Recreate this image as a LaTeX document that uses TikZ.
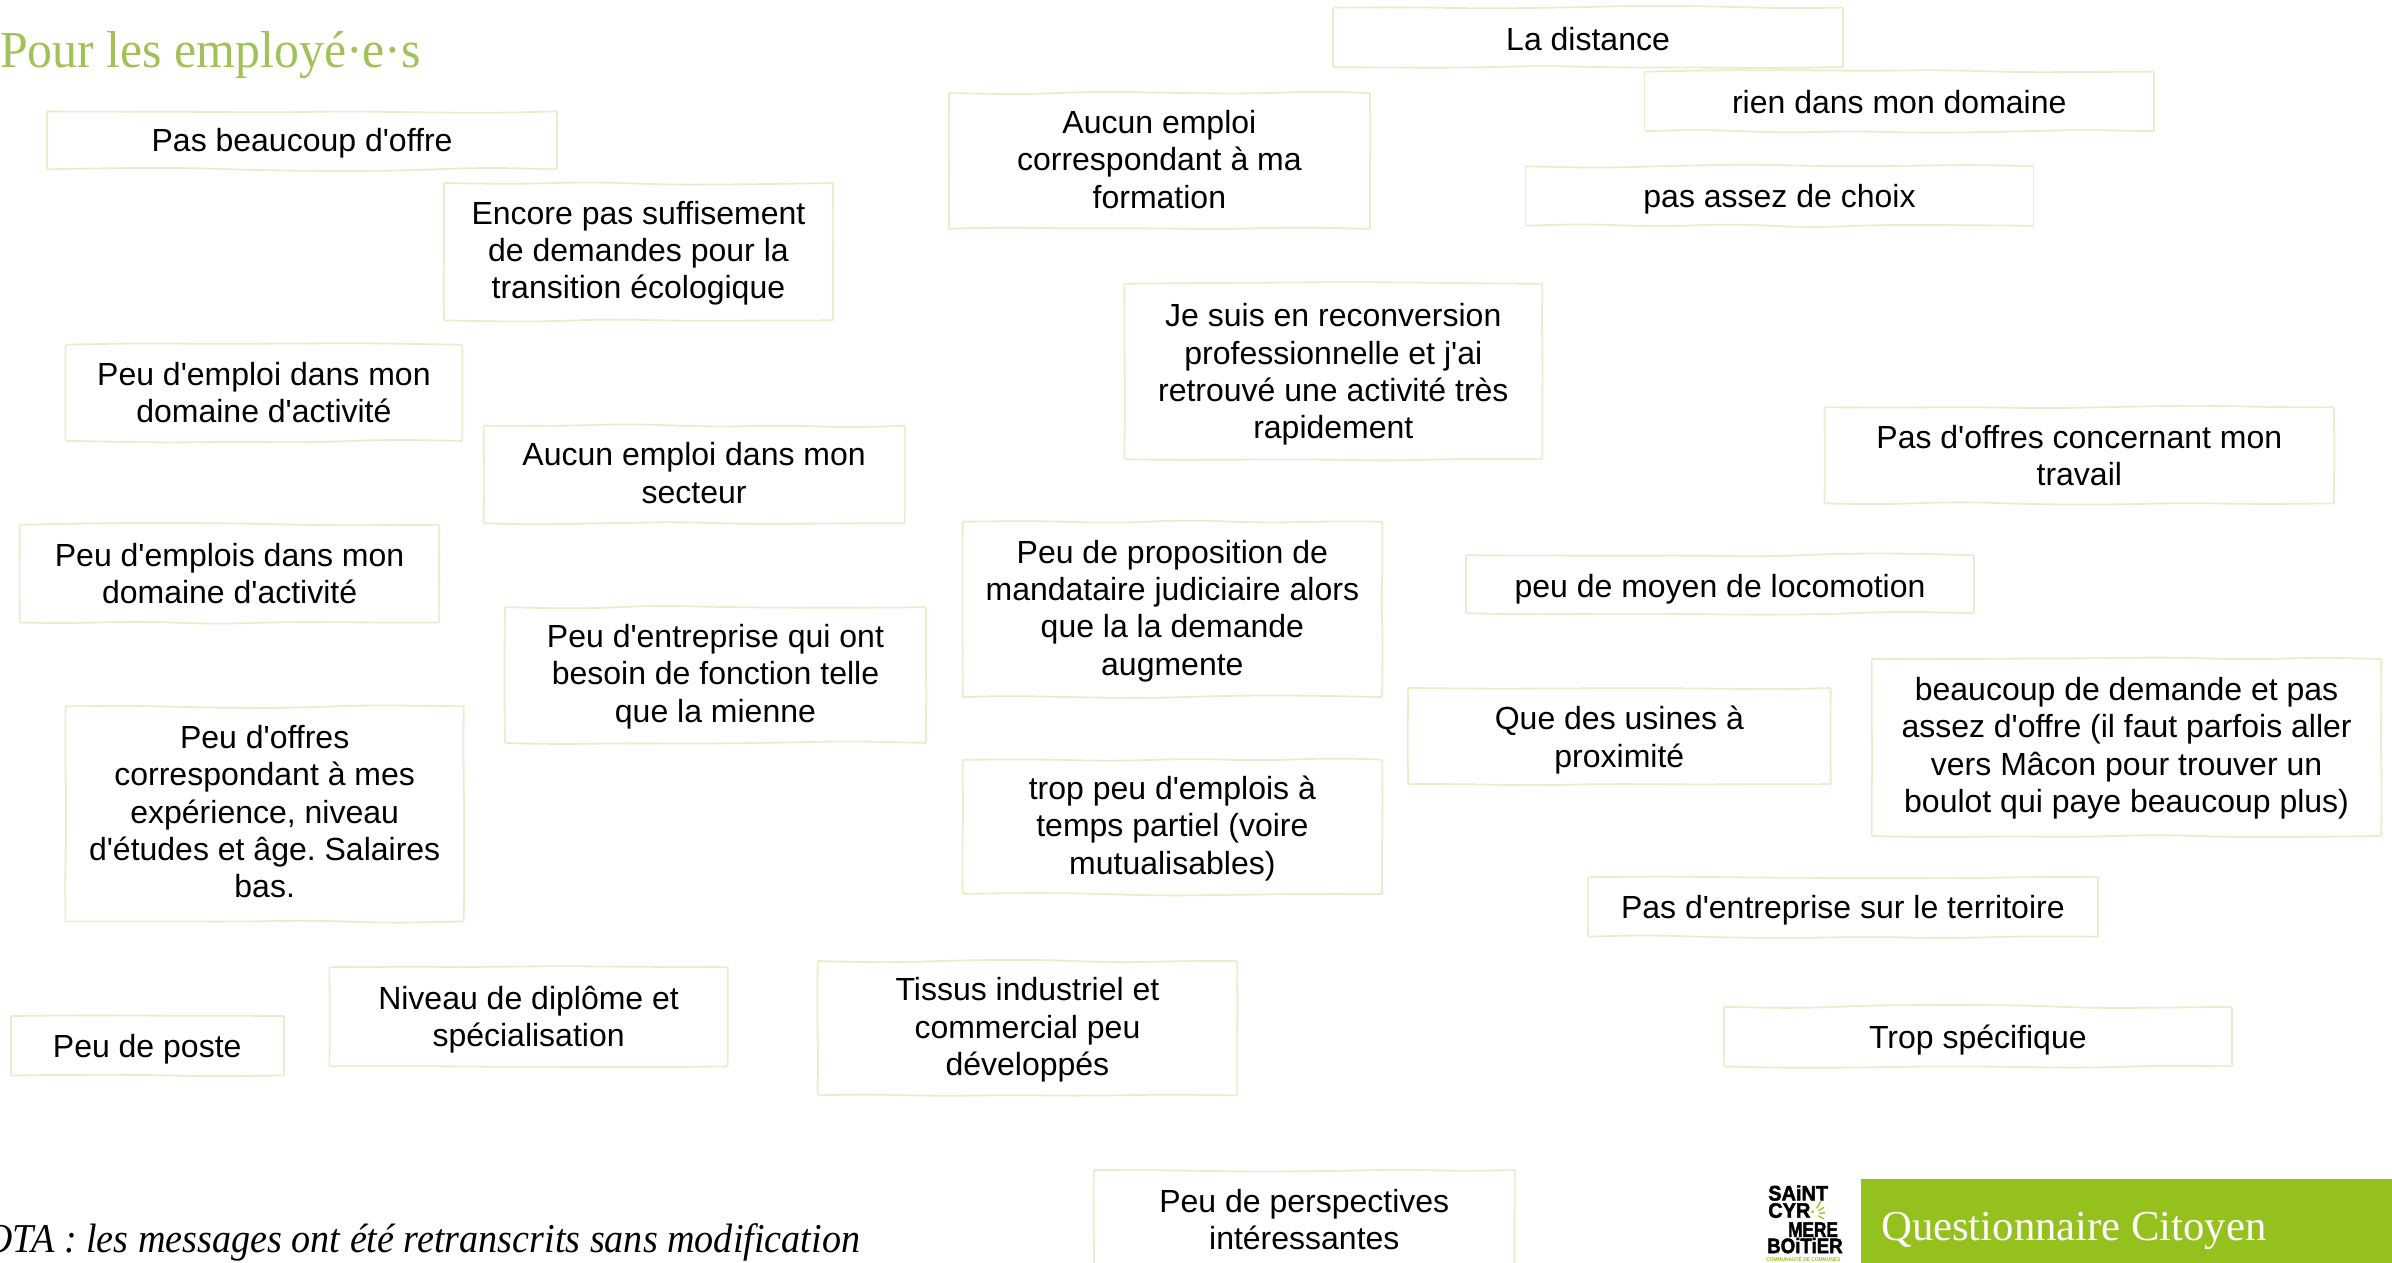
\documentclass[tikz,border=0pt]{standalone}
\usepackage{fontspec}
\usepackage{graphicx}
\usetikzlibrary{decorations.pathmorphing}
\setmainfont{Liberation Sans}[Ligatures=TeXOff]
\newfontfamily\serifface{Liberation Serif}[Ligatures=TeXOff]
\newfontfamily\titleface{Liberation Serif}[FakeStretch=0.958]
\newfontfamily\notaface{Liberation Serif Italic}[FakeStretch=0.93,Ligatures=TeXOff]
\newfontfamily\logoface{Liberation Sans Bold}[FakeBold=2.2,Ligatures=TeXOff]
\definecolor{cardline}{HTML}{E6EECB}
\definecolor{titlegreen}{HTML}{A2C157}
\definecolor{bandgreen}{HTML}{95C11F}
\tikzset{
  cardtext/.style={align=center,inner sep=0pt,
    font=\frenchspacing\fontsize{32}{37.4}\selectfont,text=black},
  hedge/.style={draw=cardline,line width=1.8pt,decorate,
    decoration={random steps,segment length=75pt,amplitude=1.9pt},rounded corners=30pt},
  vedge/.style={draw=cardline,line width=1.8pt,decorate,
    decoration={random steps,segment length=40pt,amplitude=0.5pt},rounded corners=15pt},
  logotext/.style={anchor=west,inner sep=0pt,font=\logoface\fontsize{21}{21}\selectfont,text=black},
  rayline/.style={draw=bandgreen,line width=1.3pt}
}
\newcommand{\cardat}[7][0]{%
  \coordinate (#2nw) at (#3,#4);
  \coordinate (#2ne) at (#5,#4);
  \coordinate (#2se) at (#5,#6);
  \coordinate (#2sw) at (#3,#6);
  \draw[hedge] (#2nw) -- (#2ne);
  \draw[vedge] (#2ne) -- (#2se);
  \draw[hedge] (#2se) -- (#2sw);
  \draw[vedge] (#2sw) -- (#2nw);
  \node[cardtext] (#2) at ({(#3+#5)/2},{(#4+#6)/2+#1}) {#7};}
\begin{document}
\begin{tikzpicture}[x=1.5255pt,y=-1.5255pt]
\pgfmathsetseed{7}
\useasboundingbox (0,0) rectangle (1568,827.3);
\clip (0,0) rectangle (1568,827.3);
\node[anchor=base west,inner sep=0pt,text=titlegreen,font=\titleface\fontsize{52}{52}\selectfont] (title) at (0,44) {Pour les employé·e·s};
\cardat[1]{a1}{874}{5}{1208}{44}{La distance}
\cardat[0.5]{a2}{1078}{47}{1412}{86}{rien dans mon domaine}
\cardat[2]{a3}{1000}{109}{1333}{148}{pas assez de choix}
\cardat[-1]{a4}{622}{61}{898}{150}{Aucun emploi\\correspondant à ma\\formation}
\cardat[2]{a5}{31}{73}{365}{111}{Pas beaucoup d'offre}
\cardat[1]{a6}{291}{120}{546}{210}{Encore pas suffisement\\de demandes pour la\\transition écologique}
\cardat[2]{a7}{737}{186}{1011}{301}{Je suis en reconversion\\professionnelle et j'ai\\retrouvé une activité très\\rapidement}
\cardat{a8}{43}{226}{303}{289}{Peu d'emploi dans mon\\domaine d'activité}
\cardat[-1]{a9}{317}{279}{593}{343}{Aucun emploi dans mon\\secteur}
\cardat{a10}{1196}{267}{1530}{330}{Pas d'offres concernant mon\\travail}
\cardat{a11}{13}{344}{288}{408}{Peu d'emplois dans mon\\domaine d'activité}
\cardat[1]{a12}{631}{342}{906}{457}{Peu de proposition de\\mandataire judiciaire alors\\que la la demande\\augmente}
\cardat[3]{a13}{961}{364}{1294}{402}{peu de moyen de locomotion}
\cardat[1]{a14}{331}{398}{607}{487}{Peu d'entreprise qui ont\\besoin de fonction telle\\que la mienne}
\cardat[2.5]{a15}{923}{451}{1200}{514}{Que des usines à\\proximité}
\cardat[0.5]{a16}{1227}{432}{1561}{548}{beaucoup de demande et pas\\assez d'offre (il faut parfois aller\\vers Mâcon pour trouver un\\boulot qui paye beaucoup plus)}
\cardat[-1.5]{a17}{43}{463}{304}{604}{Peu d'offres\\correspondant à mes\\expérience, niveau\\d'études et âge. Salaires\\bas.}
\cardat[1]{a18}{631}{498}{906}{586}{trop peu d'emplois à\\temps partiel (voire\\mutualisables)}
\cardat[2]{a19}{1041}{575}{1375}{614}{Pas d'entreprise sur le territoire}
\cardat[2]{a20}{216}{634}{477}{699}{Niveau de diplôme et\\spécialisation}
\cardat[1]{a21}{536}{630}{811}{718}{Tissus industriel et\\commercial peu\\développés}
\cardat[2]{a22}{7}{666}{186}{705}{Peu de poste}
\cardat[2]{a23}{1130}{660}{1463}{699}{Trop spécifique}
\cardat{a24}{717}{767}{993}{856}{Peu de perspectives\\intéressantes\\\phantom{x}}
\node[anchor=base east,inner sep=0pt,text=black,font=\notaface\fontsize{41}{41}\selectfont] (nota) at (564,821) {NOTA : les messages ont été retranscrits sans modification};
\fill[bandgreen] (1220,773) rectangle (1568,828);
\node[anchor=base west,inner sep=0pt,text=white,font=\serifface\fontsize{42.7}{44}\selectfont] (band) at (1233,813) {Questionnaire Citoyen};
\node[logotext] (l1) at (1159,782) {\scalebox{.95}[1]{SAiNT}};
\node[logotext] (l2) at (1159,793.5) {\scalebox{.95}[1]{CYR}};
\node[logotext] (l3) at (1172,806) {\scalebox{.82}[1]{MERE}};
\node[logotext] (l4) at (1158.3,816.5) {\scalebox{.89}[1]{BOiTiER}};
\node[anchor=west,inner sep=0pt,text=bandgreen,font=\bfseries\fontsize{5.4}{6}\selectfont] (l5) at (1157.7,825.6) {\scalebox{.9}[1]{COMMUNAUTÉ DE COMMUNES}};
\fill[bandgreen] (1188.2,794.3) circle (1);
\draw[rayline] (1190.9,792.1) -- (1193.7,787.1);
\draw[rayline] (1192,793.6) -- (1195.7,791.4);
\draw[rayline] (1192.4,795.4) -- (1196.3,795);
\draw[rayline] (1192,796.9) -- (1195.7,799);
\end{tikzpicture}
\end{document}
